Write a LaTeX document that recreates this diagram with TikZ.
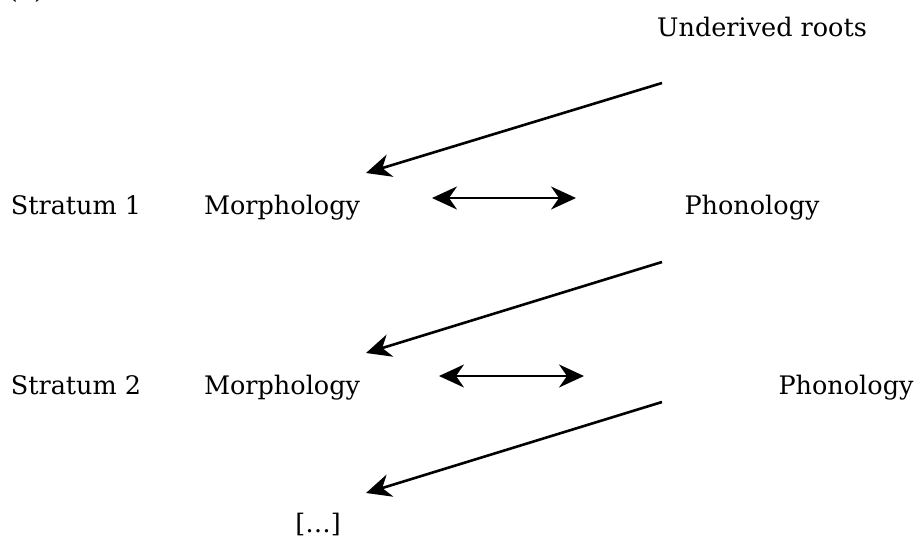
\documentclass[tikz,border=0pt]{standalone}
\usepackage{fontspec}
\setmainfont{DejaVu Serif}
\usetikzlibrary{arrows.meta}
\begin{document}
\begin{tikzpicture}[x=1pt,y=-1pt,
  lbl/.style={anchor=base,inner sep=0pt,font=\fontsize{25.5}{30}\selectfont},
  tipd/.tip={Stealth[length=25pt,width=23pt,inset=8pt]},
  diag/.style={line width=2.6pt,-tipd},
  both/.style={line width=2.2pt,tipd-tipd}]
\useasboundingbox (0,0) rectangle (920,538);
\node[lbl] (num) at (26,-1.5) {(1)};
\node[lbl] (roots) at (762,36) {Underived roots};
\node[lbl] (s1) at (76,214) {Stratum 1};
\node[lbl] (m1) at (282,214) {Morphology};
\node[lbl] (p1) at (752,214) {Phonology};
\node[lbl] (s2) at (76,394) {Stratum 2};
\node[lbl] (m2) at (282,394) {Morphology};
\node[lbl] (p2) at (846,394) {Phonology};
\node[lbl] (etc) at (318,532) {[…]};
\coordinate (a1s) at (662,83);  \coordinate (a1e) at (366,173);
\coordinate (a2s) at (662,262); \coordinate (a2e) at (366,353);
\coordinate (a3s) at (662,402); \coordinate (a3e) at (366,493);
\coordinate (b1l) at (432,198); \coordinate (b1r) at (576,198);
\coordinate (b2l) at (439,376); \coordinate (b2r) at (584,376);
\draw[diag] (a1s) -- (a1e);
\draw[diag] (a2s) -- (a2e);
\draw[diag] (a3s) -- (a3e);
\draw[both] (b1l) -- (b1r);
\draw[both] (b2l) -- (b2r);
\end{tikzpicture}
\end{document}
